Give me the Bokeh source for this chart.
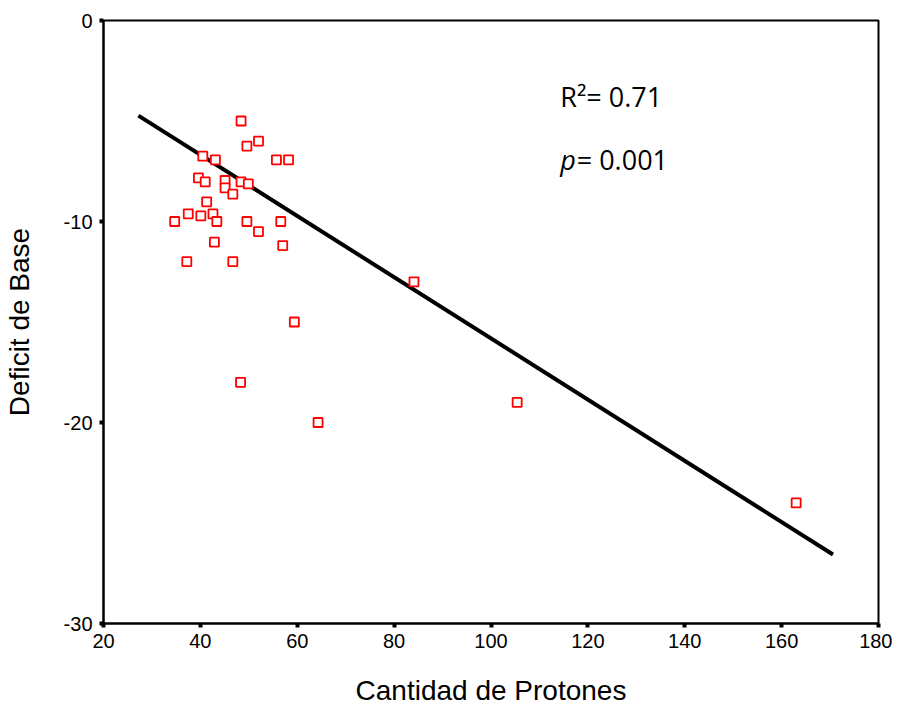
from bokeh.plotting import figure
from bokeh.models import Range1d, FixedTicker, Label
from bokeh.embed import file_html
from bokeh.resources import INLINE

# Data
protones = [48.4, 52.0, 49.6, 40.5, 43.1, 55.7, 58.2, 39.6, 41.0, 45.1, 48.4, 49.9,
            45.1, 46.7, 41.3, 37.5, 40.1, 42.6, 34.7, 43.4, 49.6, 56.6, 52.0, 42.9,
            57.0, 37.2, 46.7, 59.4, 48.3, 64.3, 84.1, 105.4, 163.0]
deficit = [-5.0, -6.0, -6.25, -6.75, -6.93, -6.93, -6.93, -7.83, -8.03, -7.96, -8.03, -8.13,
           -8.33, -8.64, -9.02, -9.62, -9.72, -9.62, -10.0, -10.0, -10.0, -10.0, -10.5, -11.03,
           -11.2, -12.0, -12.0, -15.0, -18.0, -20.0, -13.0, -19.0, -24.0]

fit_x = [27.2, 170.6]
fit_y = [-4.73, -26.57]

x_ticks = [20, 40, 60, 80, 100, 120, 140, 160, 180]
y_ticks = [0, -10, -20, -30]
y_tick_labels = ["0", "-10", "-20", "-30"]

r2_text = "R\u00b2= 0.71"
p_sym = "p"
p_text = "= 0.001"

p = figure(frame_width=775, frame_height=603,
           x_range=Range1d(20, 180), y_range=Range1d(-30, 0),
           output_backend="svg", toolbar_location=None,
           min_border_left=95, min_border_right=14, min_border_top=20, min_border_bottom=60,
           background_fill_color="white", border_fill_color="white")

p.grid.visible = False
p.outline_line_color = "black"
p.outline_line_width = 2

for ax in (p.xaxis, p.yaxis):
    ax.axis_line_color = "black"
    ax.axis_line_width = 2
    ax.major_tick_in = 0
    ax.major_tick_out = 4
    ax.major_tick_line_width = 4
    ax.major_tick_line_color = "black"
    ax.minor_tick_line_color = None
    ax.major_label_text_font = "Liberation Sans"
    ax.major_label_text_font_size = "20px"
    ax.major_label_text_color = "black"
    ax.axis_label_text_font = "Liberation Sans"
    ax.axis_label_text_font_size = "28px"
    ax.axis_label_text_font_style = "normal"
    ax.axis_label_text_color = "black"

p.xaxis.ticker = FixedTicker(ticks=x_ticks)
p.yaxis.ticker = FixedTicker(ticks=y_ticks)
p.yaxis.major_label_overrides = {t: l for t, l in zip(y_ticks, y_tick_labels)}
p.xaxis.major_label_standoff = 6
p.yaxis.major_label_standoff = 7
p.xaxis.axis_label = "Cantidad de Protones"
p.yaxis.axis_label = "Deficit de Base"
p.xaxis.axis_label_standoff = 24
p.yaxis.axis_label_standoff = 26

p.line(fit_x, fit_y, line_color="black", line_width=4)
p.scatter(protones, deficit, marker="square", size=9, fill_color="white",
          line_color="#ff0000", line_width=1.8)

p.add_layout(Label(x=114.3, y=-3.76, text=r2_text, text_font="Open Sans",
                   text_font_size="27px", text_color="black", text_baseline="alphabetic"))
p.add_layout(Label(x=114.3, y=-6.91, text=p_sym, text_font="Open Sans",
                   text_font_size="27px", text_font_style="italic", text_color="black",
                   text_baseline="alphabetic"))
p.add_layout(Label(x=117.7, y=-6.91, text=p_text, text_font="Open Sans",
                   text_font_size="27px", text_color="black", text_baseline="alphabetic"))

open("out.html", "w").write(file_html(p, INLINE))
